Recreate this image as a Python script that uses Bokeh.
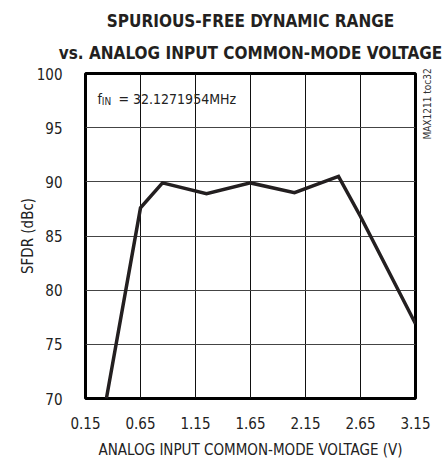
from bokeh.plotting import figure
from bokeh.models import Range1d, FixedTicker, Label, Title, LinearAxis
from bokeh.embed import file_html
from bokeh.resources import INLINE
import math

# data
vcm = [0.34, 0.65, 0.85, 1.25, 1.65, 2.05, 2.45, 2.65, 3.15]
sfdr = [70.0, 87.6, 89.9, 88.9, 89.9, 89.0, 90.5, 86.8, 76.9]
x_ticks = [0.15, 0.65, 1.15, 1.65, 2.15, 2.65, 3.15]
y_ticks = [70, 75, 80, 85, 90, 95, 100]
title1 = "SPURIOUS-FREE DYNAMIC RANGE"
title2 = "vs. ANALOG INPUT COMMON-MODE VOLTAGE"
side_note = "MAX1211 toc32"
side_note_at = 93.9

FONT = "DejaVu Sans Condensed"
TXT = "#222222"

p = figure(width=444, height=461, output_backend="svg", toolbar_location=None,
           x_range=Range1d(0.15, 3.15), y_range=Range1d(70, 100),
           min_border_left=85, min_border_right=29, min_border_top=73, min_border_bottom=59)
p.outline_line_color = "black"
p.outline_line_width = 3
p.background_fill_color = "white"

for ax in (p.xaxis[0], p.yaxis[0]):
    ax.axis_line_color = None
    ax.major_tick_line_color = None
    ax.minor_tick_line_color = None
    ax.major_label_text_font = FONT
    ax.major_label_text_font_size = "15px"
    ax.major_label_text_color = TXT
    ax.axis_label_text_font = FONT
    ax.axis_label_text_font_size = "15px"
    ax.axis_label_text_font_style = "normal"
    ax.axis_label_text_color = TXT

p.xaxis.ticker = FixedTicker(ticks=x_ticks)
p.yaxis.ticker = FixedTicker(ticks=y_ticks)
p.xaxis.axis_label = "ANALOG INPUT COMMON-MODE VOLTAGE (V)"
p.yaxis.axis_label = "SFDR (dBc)"
p.xaxis.major_label_standoff = 12
p.xaxis.axis_label_standoff = 9
p.yaxis.major_label_standoff = 17
p.yaxis.axis_label_standoff = -3

p.xgrid.ticker = FixedTicker(ticks=x_ticks)
p.ygrid.ticker = FixedTicker(ticks=y_ticks)
p.xgrid.grid_line_color = "#111111"
p.ygrid.grid_line_color = "#444444"
p.xgrid.grid_line_width = 1
p.ygrid.grid_line_width = 1

p.line(vcm, sfdr, line_color="#231f20", line_width=3.5, line_join="miter")

# titles (closest to plot added first)
p.add_layout(Title(text=title2, align="center", text_font=FONT, text_font_style="bold",
                   text_font_size="17px", text_color="#231f20", standoff=21), "above")
p.add_layout(Title(text=title1, align="center", text_font=FONT, text_font_style="bold",
                   text_font_size="17px", text_color="#231f20", standoff=0), "above")

# annotation f_IN
p.add_layout(Label(x=0.259, y=97.63, text="f", text_align="left", text_baseline="alphabetic",
                   text_font=FONT, text_font_size="14px", text_color=TXT))
p.add_layout(Label(x=0.298, y=97.46, text="IN", text_align="left", text_baseline="alphabetic",
                   text_font=FONT, text_font_size="10px", text_color=TXT))
p.add_layout(Label(x=0.45, y=97.63, text="= 32.1271954MHz", text_align="left", text_baseline="alphabetic",
                   text_font=FONT, text_font_size="14px", text_color=TXT))

# side note as a vertical tick label on a right axis
rax = LinearAxis(ticker=FixedTicker(ticks=[side_note_at]), axis_line_color=None,
                 major_tick_line_color=None, minor_tick_line_color=None,
                 major_label_overrides={side_note_at: side_note},
                 major_label_orientation=math.pi / 2, major_label_standoff=6,
                 major_label_text_font=FONT, major_label_text_font_size="10px",
                 major_label_text_color="#333333")
p.add_layout(rax, "right")

open("out.html", "w").write(file_html(p, INLINE))
